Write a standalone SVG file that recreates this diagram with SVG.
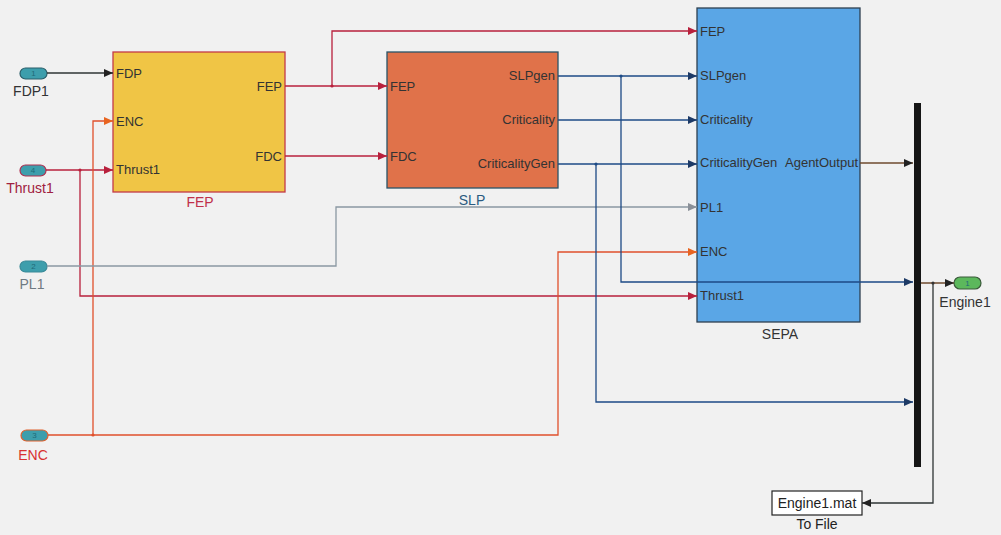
<svg xmlns="http://www.w3.org/2000/svg" width="1001" height="535" viewBox="0 0 1001 535">
<style>
text{font-family:"Liberation Sans",Arial,sans-serif;}
.pl{font-size:13px;fill:#333;}
.plr{font-size:13px;fill:#333;text-anchor:end;}
.bl{font-size:14px;text-anchor:middle;}
.il{font-size:14px;text-anchor:middle;}
.num{font-size:8px;text-anchor:middle;fill:#1f6a78;}
.w{fill:none;stroke-width:1.3;}
.dark{stroke:#2e3535;}
.red{stroke:#b8203c;}
.org{stroke:#e0502c;}
.gry{stroke:#8a98a2;}
.blu{stroke:#1d4a86;}
.brn{stroke:#6e4a2e;}
</style>
<defs>
<marker id="aDark" markerUnits="userSpaceOnUse" markerWidth="10" markerHeight="8" refX="9" refY="4" orient="auto"><path d="M0,0 L9,4 L0,8 z" fill="#222"/></marker>
<marker id="aRed" markerUnits="userSpaceOnUse" markerWidth="10" markerHeight="8" refX="9" refY="4" orient="auto"><path d="M0,0 L9,4 L0,8 z" fill="#b8203c"/></marker>
<marker id="aOrg" markerUnits="userSpaceOnUse" markerWidth="10" markerHeight="8" refX="9" refY="4" orient="auto"><path d="M0,0 L9,4 L0,8 z" fill="#e86420"/></marker>
<marker id="aGry" markerUnits="userSpaceOnUse" markerWidth="10" markerHeight="8" refX="9" refY="4" orient="auto"><path d="M0,0 L9,4 L0,8 z" fill="#8a9098"/></marker>
<marker id="aBlu" markerUnits="userSpaceOnUse" markerWidth="10" markerHeight="8" refX="9" refY="4" orient="auto"><path d="M0,0 L9,4 L0,8 z" fill="#1d3a66"/></marker>
</defs>
<rect width="1001" height="535" fill="#f1f1f1"/>

<g id="in-FDP1">
<rect x="20" y="68" width="27" height="11" rx="5.5" fill="#3d9eac" stroke="#2a5e6a" stroke-width="1.2"/>
<text class="num" x="33.5" y="76">1</text>
<text class="il" x="31" y="96" fill="#333">FDP1</text>
</g>
<g id="in-Thrust1">
<rect x="20" y="165" width="26" height="11" rx="5.5" fill="#3d9eac" stroke="#b03050" stroke-width="1.2"/>
<text class="num" x="33" y="173">4</text>
<text class="il" x="30" y="193" fill="#a02040">Thrust1</text>
</g>
<g id="in-PL1">
<rect x="20" y="261" width="27" height="11" rx="5.5" fill="#3d9eac" stroke="#3a8a98" stroke-width="1.2"/>
<text class="num" x="33.5" y="269">2</text>
<text class="il" x="32" y="289" fill="#6f7a82">PL1</text>
</g>
<g id="in-ENC">
<rect x="21" y="430" width="27" height="11" rx="5.5" fill="#3d9eac" stroke="#e0602c" stroke-width="1.2"/>
<text class="num" x="34.5" y="438">3</text>
<text class="il" x="33" y="460" fill="#d83030">ENC</text>
</g>

<g id="FEP">
<rect x="113" y="52" width="172" height="140" fill="#f0c545" stroke="#c43a48" stroke-width="1.3"/>
<text class="pl" x="116" y="78">FDP</text>
<text class="pl" x="116" y="126">ENC</text>
<text class="pl" x="116" y="174">Thrust1</text>
<text class="plr" x="282" y="91">FEP</text>
<text class="plr" x="282" y="161">FDC</text>
<text class="bl" x="200" y="207" fill="#c0304a">FEP</text>
</g>

<g id="SLP">
<rect x="387" y="52" width="171" height="136" fill="#e0724a" stroke="#2a5468" stroke-width="1.3"/>
<text class="pl" x="390" y="91">FEP</text>
<text class="pl" x="390" y="161">FDC</text>
<text class="plr" x="555" y="80">SLPgen</text>
<text class="plr" x="555" y="124">Criticality</text>
<text class="plr" x="555" y="168">CriticalityGen</text>
<text class="bl" x="472" y="205" fill="#2a5a80">SLP</text>
</g>

<g id="SEPA">
<rect x="697" y="8" width="163" height="314" fill="#5aa6e6" stroke="#2e4050" stroke-width="1.3"/>
<text class="pl" x="700" y="36">FEP</text>
<text class="pl" x="700" y="80">SLPgen</text>
<text class="pl" x="700" y="124">Criticality</text>
<text class="pl" x="700" y="167">CriticalityGen</text>
<text class="plr" x="858" y="167">AgentOutput</text>
<text class="pl" x="700" y="212">PL1</text>
<text class="pl" x="700" y="256">ENC</text>
<text class="pl" x="700" y="300">Thrust1</text>
<text class="bl" x="780" y="339" fill="#333">SEPA</text>
</g>

<g id="Bus">
<rect x="914" y="103" width="7" height="364" fill="#151515"/>
</g>

<g id="out-Engine1">
<rect x="954" y="277" width="27" height="12" rx="6" fill="#5cb85c" stroke="#3a5a3a" stroke-width="1.2"/>
<text class="num" x="967.5" y="286" fill="#2a5a2a">1</text>
<text class="il" x="965" y="307" fill="#333">Engine1</text>
</g>

<g id="ToFile">
<rect x="772" y="491" width="90" height="24" fill="#fff" stroke="#222" stroke-width="1.2"/>
<text class="il" x="817" y="508" fill="#222">Engine1.mat</text>
<text class="il" x="817" y="529" fill="#222" font-size="13">To File</text>
</g>

<g id="connectors">
<path class="w dark" d="M47,73 H113" marker-end="url(#aDark)"/>
<path class="w red" d="M46,170 H113" marker-end="url(#aRed)"/>
<path class="w red" d="M80,170 V296 H697" marker-end="url(#aRed)"/>
<path class="w org" d="M48,435 H558 V252 H697" marker-end="url(#aOrg)"/>
<path class="w org" d="M93,435 V121 H113" marker-end="url(#aOrg)"/>
<path class="w gry" d="M47,266 H336 V207 H697" marker-end="url(#aGry)"/>
<path class="w red" d="M285,86 H387" marker-end="url(#aRed)"/>
<path class="w red" d="M332,86 V31 H697" marker-end="url(#aRed)"/>
<path class="w red" d="M285,156 H387" marker-end="url(#aRed)"/>
<path class="w blu" d="M558,76 H697" marker-end="url(#aBlu)"/>
<path class="w blu" d="M621,76 V282 H913" marker-end="url(#aBlu)"/>
<path class="w blu" d="M558,120 H697" marker-end="url(#aBlu)"/>
<path class="w blu" d="M558,164 H697" marker-end="url(#aBlu)"/>
<path class="w blu" d="M596,164 V402 H913" marker-end="url(#aBlu)"/>
<path class="w brn" d="M860,163 H913" marker-end="url(#aDark)"/>
<path class="w brn" d="M921,283 H954" marker-end="url(#aDark)"/>
<path class="w dark" d="M933,283 V503 H862" marker-end="url(#aDark)"/>
<g fill="#333">
<circle cx="80" cy="170" r="1.6" fill="#b8203c"/>
<circle cx="93" cy="435" r="1.6" fill="#e0502c"/>
<circle cx="332" cy="86" r="1.6" fill="#b8203c"/>
<circle cx="621" cy="76" r="1.6" fill="#1d4a86"/>
<circle cx="596" cy="164" r="1.6" fill="#1d4a86"/>
<circle cx="933" cy="283" r="1.6"/>
</g>
</g>
</svg>
